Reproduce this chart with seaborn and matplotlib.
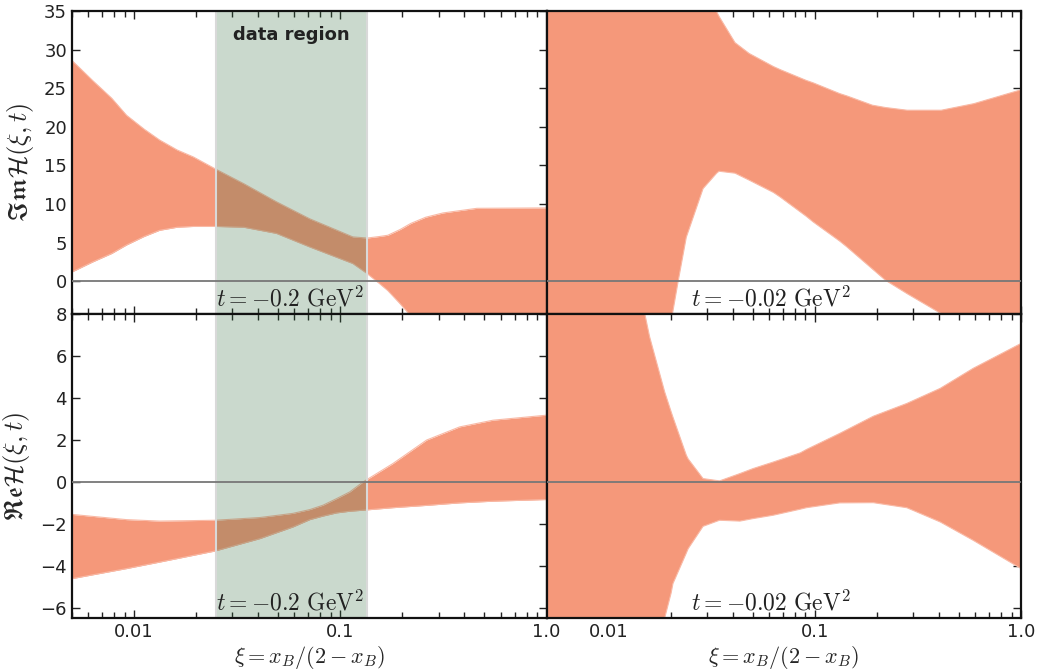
import numpy as np
import matplotlib
matplotlib.use("Agg")
import matplotlib.pyplot as plt
import matplotlib.transforms as mtransforms
from matplotlib.ticker import LogLocator, NullFormatter
import seaborn as sns

# top left: Im H at t = -0.2 GeV^2
x_im_02 = [0.005, 0.0063, 0.0078, 0.0092, 0.0112, 0.0133, 0.0162, 0.0194, 0.025,
           0.034, 0.049, 0.071, 0.115, 0.135, 0.155, 0.17, 0.195, 0.22, 0.26,
           0.315, 0.46, 1.0]
im_02_hi = [28.6, 26.0, 23.7, 21.5, 19.7, 18.3, 17.0, 16.1, 14.5,
            12.65, 10.3, 8.1, 5.75, 5.6, 5.8, 5.96, 6.7, 7.5, 8.3,
            8.85, 9.45, 9.5]
im_02_lo = [1.2, 2.5, 3.6, 4.7, 5.8, 6.6, 7.0, 7.1, 7.1,
            7.0, 6.2, 4.45, 2.3, 1.0, -0.3, -1.2, -2.9, -4.5, -7.0,
            -9.0, -13.0, -20.0]

# bottom left: Re H at t = -0.2 GeV^2
x_re_02 = [0.005, 0.0092, 0.0133, 0.0247, 0.0407, 0.059, 0.0712, 0.0825, 0.0958,
           0.111, 0.129, 0.18, 0.262, 0.379, 0.55, 1.0]
re_02_hi = [-1.55, -1.8, -1.87, -1.83, -1.7, -1.5, -1.32, -1.11, -0.8,
            -0.48, 0.0, 0.88, 2.0, 2.63, 2.95, 3.19]
re_02_lo = [-4.62, -4.14, -3.83, -3.3, -2.71, -2.15, -1.8, -1.63, -1.48,
            -1.4, -1.35, -1.23, -1.12, -1.0, -0.92, -0.84]

# top right: Im H at t = -0.02 GeV^2
x_im_002 = [0.005, 0.015, 0.0204, 0.0217, 0.0238, 0.0287, 0.0334, 0.0343, 0.041,
            0.048, 0.063, 0.068, 0.091, 0.098, 0.132, 0.143, 0.19, 0.22, 0.28,
            0.41, 0.59, 1.0]
im_002_hi = [80, 60, 50, 45, 42, 37, 34.9, 34.3, 30.9,
             29.5, 27.8, 27.4, 26.0, 25.7, 24.3, 24.0, 22.8, 22.5, 22.15,
             22.15, 23.0, 24.8]
im_002_lo = [-40, -20, -4.2, -0.1, 5.7, 12.0, 14.0, 14.25, 14.0,
             13.1, 11.5, 10.9, 8.4, 7.7, 5.2, 4.45, 1.6, 0.13, -1.6,
             -4.2, -5.5, -6.5]

# bottom right: Re H at t = -0.02 GeV^2
x_re_002 = [0.005, 0.012, 0.015, 0.0158, 0.0187, 0.0201, 0.0205, 0.0238, 0.0243,
            0.0287, 0.0345, 0.0433, 0.0502, 0.0628, 0.085, 0.091, 0.132, 0.192,
            0.279, 0.405, 0.586, 1.0]
re_002_hi = [20, 12, 8.0, 6.94, 4.3, 3.35, 3.1, 1.28, 1.1,
             0.16, 0.05, 0.4, 0.64, 0.95, 1.39, 1.55, 2.32, 3.14,
             3.75, 4.47, 5.43, 6.62]
re_002_lo = [-15, -10, -8.5, -8.0, -6.5, -5.3, -4.86, -3.4, -3.19,
             -2.12, -1.83, -1.87, -1.75, -1.59, -1.3, -1.23, -1.0, -0.99,
             -1.23, -1.91, -2.79, -4.14]

data_region = (0.025, 0.135)
t_labels = [r"$t = -0.2\ \mathrm{GeV}^2$", r"$t = -0.02\ \mathrm{GeV}^2$"]
x_ticks = [0.01, 0.1, 1.0]
x_tick_labels = ["0.01", "0.1", "1.0"]

sns.set_style("ticks")
plt.rcParams["mathtext.fontset"] = "cm"
plt.rcParams["font.family"] = ["DejaVu Sans"]

band = "#f5987a"
edge = "#f9b9a5"

fig, axes = plt.subplots(2, 2, figsize=(10.42, 6.70), dpi=100)
fig.subplots_adjust(left=0.069, right=0.980, top=0.9836, bottom=0.0776,
                    hspace=0, wspace=0)

panels = [
    (axes[0, 0], x_im_02, im_02_lo, im_02_hi, True),
    (axes[1, 0], x_re_02, re_02_lo, re_02_hi, True),
    (axes[0, 1], x_im_002, im_002_lo, im_002_hi, False),
    (axes[1, 1], x_re_002, re_002_lo, re_002_hi, False),
]

for ax, xs, lo, hi, show_region in panels:
    ax.fill_between(xs, lo, hi, color=band, lw=0, zorder=1)
    sns.lineplot(x=xs, y=hi, ax=ax, color=edge, lw=0.8, zorder=1.5)
    sns.lineplot(x=xs, y=lo, ax=ax, color=edge, lw=0.8, zorder=1.5)
    ax.axhline(0, color="#777777", lw=1.3, zorder=3)
    if show_region:
        ax.axvspan(*data_region, facecolor=(0.18, 0.42, 0.23, 0.25),
                   edgecolor=(0.85, 0.85, 0.85, 1.0), lw=1.5, zorder=2)
    ax.set_xscale("log")
    ax.set_xlim(0.005, 1.0)
    ax.set_xticks(x_ticks)
    ax.set_xticklabels(x_tick_labels)
    ax.xaxis.set_minor_locator(LogLocator(base=10, subs=np.arange(2, 10)))
    ax.xaxis.set_minor_formatter(NullFormatter())
    ax.tick_params(which="both", direction="in", top=True, right=True,
                   labelsize=13, width=1.0, colors="#222222")
    ax.tick_params(which="major", length=6)
    ax.tick_params(which="minor", length=4)
    for s in ax.spines.values():
        s.set_linewidth(1.6)
        s.set_color("#111111")

for ax in axes[0]:
    ax.set_ylim(-4.3, 35)
    ax.set_yticks(range(0, 36, 5))
    ax.tick_params(labelbottom=False)
for ax in axes[1]:
    ax.set_ylim(-6.5, 8)
    ax.set_yticks(range(-6, 9, 2))
    ax.set_xlabel(r"$\xi = x_B / (2 - x_B)$", fontsize=16, labelpad=2)
for ax in axes[:, 1]:
    ax.tick_params(labelleft=False)

axes[0, 0].set_ylabel(r"$\mathfrak{Im}\mathcal{H}(\xi,t)$", fontsize=19, labelpad=6)
axes[1, 0].set_ylabel(r"$\mathfrak{Re}\mathcal{H}(\xi,t)$", fontsize=19, labelpad=6)

for col, lab in enumerate(t_labels):
    for row in range(2):
        ax = axes[row, col]
        tr = mtransforms.blended_transform_factory(ax.transData, ax.transAxes)
        ax.text(0.025, 0.01, lab, transform=tr, ha="left", va="bottom",
                fontsize=17, color="#222222", zorder=4)

ax = axes[0, 0]
tr = mtransforms.blended_transform_factory(ax.transData, ax.transAxes)
ax.text(np.sqrt(data_region[0] * data_region[1]), 0.92, "data region",
        transform=tr, ha="center", va="center", fontsize=13,
        fontweight="bold", color="#222222", zorder=4)

fig.savefig("out.png", dpi=100)
